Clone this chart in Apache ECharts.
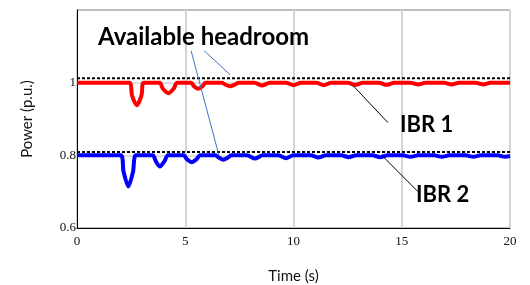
<!DOCTYPE html>
<html>
<head>
<meta charset="utf-8">
<script src="https://cdn.jsdelivr.net/npm/echarts@6/dist/echarts.min.js"></script>
<style>
  html, body { margin: 0; padding: 0; background: #fff; }
  #chart { width: 530px; height: 285px; }
</style>
</head>
<body>
<div id="chart"></div>
<script>
// IBR 1 (red) - time (s) and power (p.u.)
const ibr1Time = [0,
  2.42, 2.54, 2.76, 2.98, 3.08,
  3.82, 3.96, 4.22, 4.47, 4.62,
  5.28, 5.4, 5.6, 5.8, 5.93,
  6.7, 6.84, 7.07, 7.3, 7.46,
  8.2, 8.55, 8.9, 9.65, 10.0, 10.35, 11.05, 11.4, 11.75, 12.5, 12.85, 13.2,
  13.95, 14.3, 14.65, 15.4, 15.76, 16.1, 16.95, 17.3, 17.65, 18.4, 18.77, 19.1, 20];
const ibr1Power = [1,
  1, 0.965, 0.938, 0.965, 1,
  1, 0.984, 0.971, 0.984, 1,
  1, 0.99, 0.983, 0.99, 1,
  1, 0.995, 0.99, 0.995, 1,
  1, 0.992, 1, 1, 0.993, 1, 1, 0.993, 1, 1, 0.994, 1,
  1, 0.994, 1, 1, 0.995, 1, 1, 0.995, 1, 1, 0.995, 1, 1];

// IBR 2 (blue)
const ibr2Time = [0,
  2.02, 2.15, 2.37, 2.59, 2.72,
  3.5, 3.64, 3.83, 4.04, 4.2,
  4.93, 5.08, 5.3, 5.52, 5.68,
  6.4, 6.55, 6.76, 6.97, 7.12,
  7.85, 8.22, 8.58, 9.3, 9.65, 10.0, 10.8, 11.15, 11.5, 12.2, 12.55, 12.9,
  13.65, 14.0, 14.35, 15.05, 15.4, 15.75, 16.5, 16.85, 17.2, 17.95, 18.3, 18.65,
  19.42, 19.77, 20];
const ibr2Power = [0.8,
  0.8, 0.755, 0.714, 0.755, 0.8,
  0.8, 0.784, 0.769, 0.784, 0.8,
  0.8, 0.789, 0.781, 0.789, 0.8,
  0.8, 0.794, 0.788, 0.794, 0.8,
  0.8, 0.791, 0.8, 0.8, 0.792, 0.8, 0.8, 0.794, 0.8, 0.8, 0.795, 0.8,
  0.8, 0.795, 0.8, 0.8, 0.796, 0.8, 0.8, 0.796, 0.8, 0.8, 0.796, 0.8,
  0.8, 0.796, 0.798];

// available headroom levels (dashed)
const headroomLevels = [1.012, 0.809];

const xTicks = [0, 5, 10, 15, 20];
const yTicks = [0.6, 0.8, 1, 1.2];

// annotations in data coordinates
const headroomLabel = { text: 'Available headroom', at: [0.97, 1.124] };
const headroomPointers = [
  [[5.27, 1.088], [6.56, 0.799]],
  [[5.87, 1.088], [7.07, 1.022]]
];
const ibrLabels = [
  { text: 'IBR 1', at: [14.92, 0.885], from: [12.75, 0.992], to: [14.36, 0.89] },
  { text: 'IBR 2', at: [15.66, 0.69], from: [14.13, 0.797], to: [15.75, 0.70] }
];

const chart = echarts.init(document.getElementById('chart'));

const zip = (xs, ys) => xs.map((x, i) => [x, ys[i]]);
const serif = "'Liberation Serif', 'Times New Roman', serif";

const option = {
  animation: false,
  grid: {
    left: 77, right: 20, top: 10, bottom: 57,
    outerBoundsMode: 'none',
    show: true, borderColor: '#000', borderWidth: 1
  },
  xAxis: {
    type: 'value',
    min: xTicks[0], max: xTicks[xTicks.length - 1], interval: 5,
    name: 'Time (s)',
    nameLocation: 'middle',
    nameGap: 41,
    nameTextStyle: { fontFamily: 'Lato', fontSize: 15, color: '#111' },
    axisLine: { lineStyle: { color: '#000', width: 1 } },
    axisTick: { show: false },
    axisLabel: { fontFamily: serif, fontSize: 13, color: '#111', margin: 7 },
    splitLine: { show: true, lineStyle: { color: '#d4d4d4', width: 2 } }
  },
  yAxis: {
    type: 'value',
    min: yTicks[0], max: yTicks[yTicks.length - 1], interval: 0.2,
    name: 'Power (p.u.)',
    nameLocation: 'middle',
    nameGap: 42,
    nameTextStyle: { fontFamily: 'Lato', fontSize: 15, color: '#111' },
    axisLine: { lineStyle: { color: '#000', width: 1 } },
    axisTick: { show: false },
    axisLabel: {
      fontFamily: serif, fontSize: 13, color: '#111', margin: 1,
      padding: [5, 0, 0, 0],
      showMaxLabel: false,
      formatter: v => String(+v.toFixed(1))
    },
    splitLine: { show: true, lineStyle: { color: '#d4d4d4', width: 1.5 } }
  },
  series: [
    {
      name: 'IBR 1', type: 'line', data: zip(ibr1Time, ibr1Power),
      showSymbol: false, smooth: 0.25, z: 3,
      lineStyle: { color: '#ff0000', width: 4 }
    },
    {
      name: 'IBR 2', type: 'line', data: zip(ibr2Time, ibr2Power),
      showSymbol: false, smooth: 0.25, z: 3,
      lineStyle: { color: '#0000ff', width: 4 }
    },
    ...headroomLevels.map(h => ({
      type: 'line', data: [[0, h], [20, h]], showSymbol: false, z: 4,
      lineStyle: { color: '#000', width: 2, type: [3, 2] }
    }))
  ]
};
chart.setOption(option);

// annotation text and pointer lines
const px = p => chart.convertToPixel({ gridIndex: 0 }, p);
const graphics = [];
headroomPointers.forEach(([a, b]) => {
  const p1 = px(a), p2 = px(b);
  graphics.push({ type: 'line', shape: { x1: p1[0], y1: p1[1], x2: p2[0], y2: p2[1] },
    style: { stroke: '#4472c4', lineWidth: 1 }, z: 10 });
});
const hp = px(headroomLabel.at);
graphics.push({ type: 'text', x: hp[0], y: hp[1], z: 10,
  style: { text: headroomLabel.text, fill: '#000', font: 'bold 24px Lato', verticalAlign: 'middle' } });
ibrLabels.forEach(l => {
  const p1 = px(l.from), p2 = px(l.to), t = px(l.at);
  graphics.push({ type: 'line', shape: { x1: p1[0], y1: p1[1], x2: p2[0], y2: p2[1] },
    style: { stroke: '#000', lineWidth: 1 }, z: 10 });
  graphics.push({ type: 'text', x: t[0], y: t[1], z: 10,
    style: { text: l.text, fill: '#000', font: 'bold 22px Lato', verticalAlign: 'middle' } });
});
chart.setOption({ graphic: graphics });
</script>
</body>
</html>
